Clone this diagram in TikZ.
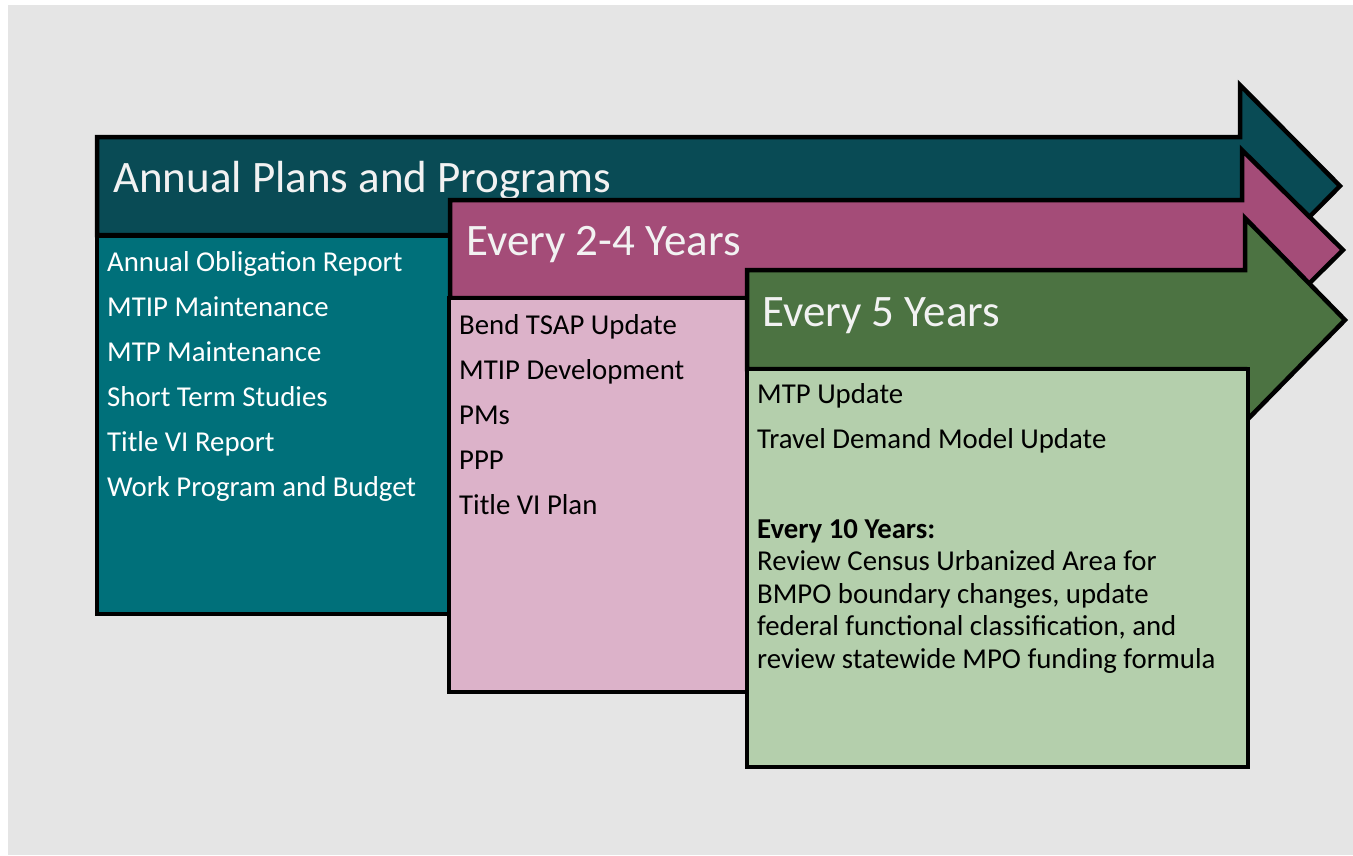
\documentclass[tikz,border=0pt]{standalone}
\usepackage{fontspec}
\setmainfont{Carlito}
\usetikzlibrary{positioning}
\definecolor{canvas}{HTML}{E5E5E5}
\definecolor{cAnnual}{HTML}{094B55}
\definecolor{cAnnualBox}{HTML}{00707A}
\definecolor{cMid}{HTML}{A44C78}
\definecolor{cMidBox}{HTML}{DCB2C9}
\definecolor{cFive}{HTML}{4C7342}
\definecolor{cFiveBox}{HTML}{B4CFAC}
\definecolor{titletxt}{HTML}{F2F2F2}
\tikzset{
    bandarrow/.style={draw=black, line width=4.5pt, miter limit=10},
    listbox/.style={draw=black, line width=4.5pt},
    bandtitle/.style={anchor=base west, inner sep=0pt, text=titletxt, font=\fontsize{45}{54}\selectfont},
    item/.style={anchor=base west, inner sep=0pt, font=\fontsize{28.8}{34}\selectfont},
    itemwhite/.style={item, text=white}
}

\begin{document}
\begin{tikzpicture}[x=1pt, y=-1pt]
      \useasboundingbox (0,0) rectangle (1353,855);
      \fill[canvas] (8,5) rectangle (1353,855);

      % annual band
      \draw[bandarrow, fill=cAnnual] (97,137) -- (1240,137) -- (1240,85) -- (1340,186) -- (1240,287) -- (1240,235) -- (97,235) -- cycle;
      \draw[listbox, fill=cAnnualBox] (97,236) rectangle (460,614);
      \node[bandtitle] (annual) at (113,192) {Annual Plans and Programs};
      \node[itemwhite] (a1) at (107,271) {Annual Obligation Report};
      \node[itemwhite, below=45pt of a1.base west, anchor=base west] (a2) {MTIP Maintenance};
      \node[itemwhite, below=45pt of a2.base west, anchor=base west] (a3) {MTP Maintenance};
      \node[itemwhite, below=45pt of a3.base west, anchor=base west] (a4) {Short Term Studies};
      \node[itemwhite, below=45pt of a4.base west, anchor=base west] (a5) {Title VI Report};
      \node[itemwhite, below=45pt of a5.base west, anchor=base west] (a6) {Work Program and Budget};

      % 2-4 year band
      \draw[bandarrow, fill=cMid] (450,200) -- (1242,200) -- (1242,150) -- (1343,250) -- (1242,350) -- (1242,298) -- (450,298) -- cycle;
      \draw[listbox, fill=cMidBox] (449,298) rectangle (760,692);
      \node[bandtitle] (mid) at (466,255) {Every 2-4 Years};
      \node[item] (m1) at (459,334) {Bend TSAP Update};
      \node[item, below=45pt of m1.base west, anchor=base west] (m2) {MTIP Development};
      \node[item, below=45pt of m2.base west, anchor=base west] (m3) {PMs};
      \node[item, below=45pt of m3.base west, anchor=base west] (m4) {PPP};
      \node[item, below=45pt of m4.base west, anchor=base west] (m5) {Title VI Plan};

      % 5 year band
      \draw[bandarrow, fill=cFive] (747,270) -- (1245,270) -- (1245,218) -- (1345,320) -- (1245,422) -- (1245,369) -- (747,369) -- cycle;
      \draw[listbox, fill=cFiveBox] (747,369) rectangle (1248,767);
      \node[bandtitle] (five) at (762,326) {Every 5 Years};
      \node[item] (f1) at (757,403) {MTP Update};
      \node[item, below=45pt of f1.base west, anchor=base west] (f2) {Travel Demand Model Update};
      \node[item, font=\fontsize{28.8}{34}\selectfont\bfseries, below=90pt of f2.base west, anchor=base west] (ten) {Every 10 Years:};
      \node[item, below=32.5pt of ten.base west, anchor=base west] (t1) {Review Census Urbanized Area for};
      \node[item, below=32.5pt of t1.base west, anchor=base west] (t2) {BMPO boundary changes, update};
      \node[item, below=32.5pt of t2.base west, anchor=base west] (t3) {federal functional classification, and};
      \node[item, below=32.5pt of t3.base west, anchor=base west] (t4) {review statewide MPO funding formula};
    \end{tikzpicture}
\end{document}
